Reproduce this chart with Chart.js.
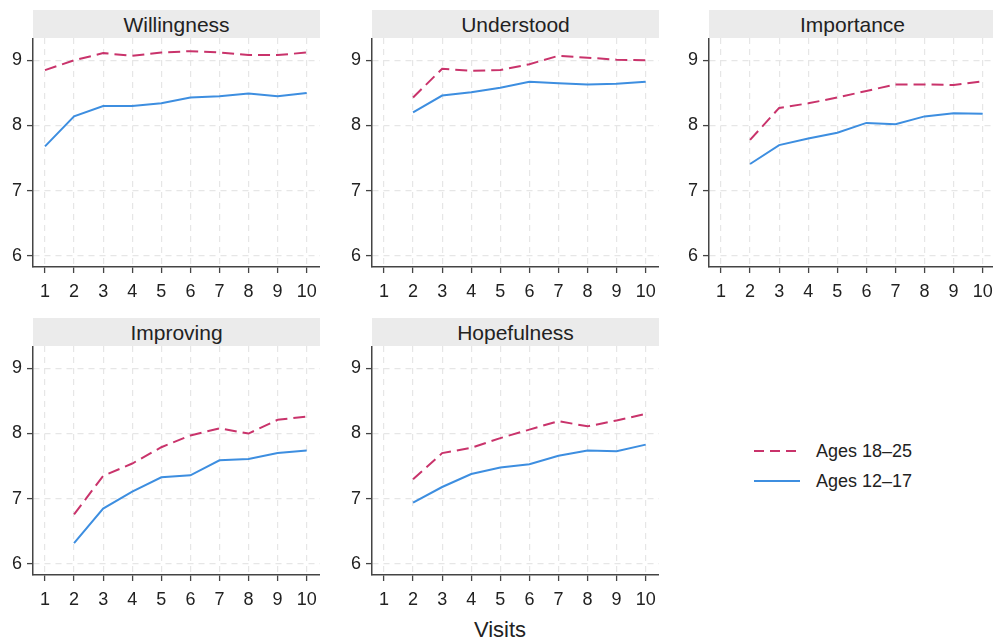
<!DOCTYPE html>
<html>
<head>
<meta charset="utf-8">
<script src="https://cdn.jsdelivr.net/npm/chart.js@4/dist/chart.umd.min.js"></script>
<style>
  html, body { margin: 0; padding: 0; background: #fff; overflow: hidden; }
  body { width: 993px; height: 641px; position: relative; font-family: "Liberation Sans", Arial, sans-serif; color: #222; }
  .band { position: absolute; height: 28px; width: 287px; background: #ebebeb; font-size: 21px; line-height: 29px; text-align: center; }
  .box { position: absolute; width: 320px; height: 274px; }
  #legend { position: absolute; left: 752px; top: 436px; font-size: 18px; }
  #legend div { height: 30px; line-height: 30px; display: flex; align-items: center; }
  #legend svg { margin-right: 14px; }
  #xtitle { position: absolute; left: 440px; width: 120px; top: 617px; text-align: center; font-size: 22px; }
</style>
</head>
<body>
<div id="legend">
  <div><svg width="50" height="4"><line x1="2" y1="2" x2="48" y2="2" stroke="#c9336b" stroke-width="2" stroke-dasharray="10,6"/></svg>Ages 18–25</div>
  <div><svg width="50" height="4"><line x1="2" y1="2" x2="48" y2="2" stroke="#3d8ee0" stroke-width="2"/></svg>Ages 12–17</div>
</div>
<div id="xtitle">Visits</div>
<script>
// visits on the x axis
const visits = [1, 2, 3, 4, 5, 6, 7, 8, 9, 10];
const yTicks = [6, 7, 8, 9];
const seriesNames = ['Ages 18–25', 'Ages 12–17'];

// one pair of arrays per panel (null = no data at that visit)
const willingOld   = [8.85, 9.00, 9.11, 9.07, 9.12, 9.14, 9.12, 9.08, 9.08, 9.12];
const willingYoung = [7.68, 8.14, 8.30, 8.30, 8.34, 8.43, 8.45, 8.49, 8.45, 8.50];

const understoodOld   = [null, 8.43, 8.87, 8.84, 8.85, 8.94, 9.07, 9.04, 9.01, 9.00];
const understoodYoung = [null, 8.20, 8.46, 8.51, 8.58, 8.67, 8.65, 8.63, 8.64, 8.67];

const importanceOld   = [null, 7.78, 8.27, 8.34, 8.43, 8.53, 8.63, 8.63, 8.62, 8.68];
const importanceYoung = [null, 7.41, 7.70, 7.80, 7.89, 8.04, 8.02, 8.14, 8.19, 8.18];

const improvingOld   = [null, 6.76, 7.35, 7.54, 7.79, 7.97, 8.08, 8.00, 8.21, 8.26];
const improvingYoung = [null, 6.32, 6.85, 7.11, 7.33, 7.36, 7.59, 7.61, 7.70, 7.74];

const hopefulOld   = [null, 7.30, 7.70, 7.78, 7.93, 8.06, 8.19, 8.11, 8.20, 8.30];
const hopefulYoung = [null, 6.94, 7.18, 7.38, 7.48, 7.53, 7.66, 7.74, 7.73, 7.83];

const panels = [
  { title: 'Willingness', old: willingOld, young: willingYoung, axisX: 33, bandTop: 10 },
  { title: 'Understood', old: understoodOld, young: understoodYoung, axisX: 372, bandTop: 10 },
  { title: 'Importance', old: importanceOld, young: importanceYoung, axisX: 709, bandTop: 10 },
  { title: 'Improving', old: improvingOld, young: improvingYoung, axisX: 33, bandTop: 318 },
  { title: 'Hopefulness', old: hopefulOld, young: hopefulYoung, axisX: 372, bandTop: 318 }
];

const RED = '#c9336b';
const BLUE = '#3d8ee0';

const toPoints = arr => visits.map((v, i) => ({ x: v, y: arr[i] })).filter(p => p.y !== null);

const axisStyle = {
  grid: { color: '#e6e6e6', lineWidth: 1.2, tickLength: 6, tickColor: '#444', tickWidth: 1.3, tickBorderDash: [] },
  border: { color: '#444', width: 1.5, dash: [6, 5] },
  ticks: { color: '#222', font: { family: 'Liberation Sans', size: 18 } }
};

panels.forEach(p => {
  const band = document.createElement('div');
  band.className = 'band';
  band.style.left = p.axisX + 'px';
  band.style.top = p.bandTop + 'px';
  band.textContent = p.title;
  document.body.appendChild(band);

  const box = document.createElement('div');
  box.className = 'box';
  box.style.left = (p.axisX - 33) + 'px';
  box.style.top = (p.bandTop + 28) + 'px';
  const canvas = document.createElement('canvas');
  canvas.width = 320;
  canvas.height = 274;
  box.appendChild(canvas);
  document.body.appendChild(box);

  new Chart(canvas.getContext('2d'), {
    type: 'line',
    data: {
      datasets: [
        { label: seriesNames[0], data: toPoints(p.old), borderColor: RED, borderWidth: 2, borderDash: [12, 6], pointRadius: 0, tension: 0 },
        { label: seriesNames[1], data: toPoints(p.young), borderColor: BLUE, borderWidth: 2, pointRadius: 0, tension: 0 }
      ]
    },
    options: {
      responsive: false,
      devicePixelRatio: 1,
      animation: false,
      layout: { padding: 0 },
      plugins: { legend: { display: false }, tooltip: { enabled: false } },
      scales: {
        x: {
          type: 'linear',
          min: 0.588,
          max: 10.457,
          afterBuildTicks: s => { s.ticks = visits.map(v => ({ value: v })); },
          afterFit: s => { s.height = 45; s.paddingLeft = 0; s.paddingRight = 0; },
          grid: axisStyle.grid,
          border: axisStyle.border,
          ticks: Object.assign({ padding: 8, maxRotation: 0 }, axisStyle.ticks)
        },
        y: {
          min: 5.831,
          max: 9.342,
          afterBuildTicks: s => { s.ticks = yTicks.map(v => ({ value: v })); },
          afterFit: s => { s.width = 33; s.paddingTop = 0; s.paddingBottom = 0; },
          grid: axisStyle.grid,
          border: axisStyle.border,
          ticks: Object.assign({ padding: 5 }, axisStyle.ticks)
        }
      }
    }
  });
});
</script>
</body>
</html>
